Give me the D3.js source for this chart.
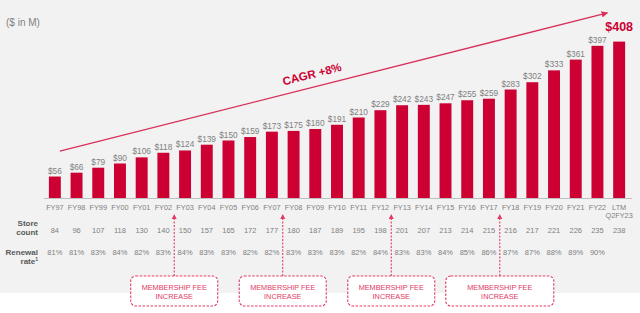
<!DOCTYPE html>
<html>
<head>
<meta charset="utf-8">
<script src="https://cdn.jsdelivr.net/npm/d3@7"></script>
<style>
  html, body { margin: 0; padding: 0; background: #fff; }
  svg { display: block; font-family: "Liberation Sans", Arial, sans-serif; }
</style>
</head>
<body>
<div id="chart"></div>
<script>
// data
let categories = ["FY97","FY98","FY99","FY00","FY01","FY02","FY03","FY04","FY05","FY06","FY07","FY08","FY09",
  "FY10","FY11","FY12","FY13","FY14","FY15","FY16","FY17","FY18","FY19","FY20","FY21","FY22","LTM Q2FY23"];
let feeRevenue = [56,66,79,90,106,118,124,139,150,159,173,175,180,191,210,229,242,243,247,255,259,283,302,333,361,397,408];
let storeCount = [84,96,107,118,130,140,150,157,165,172,177,180,187,189,195,198,201,207,213,214,215,216,217,221,226,235,238];
let renewalRate = [81,81,83,84,82,83,84,83,83,82,82,83,83,83,82,84,83,83,84,85,86,87,87,88,89,90,null];
// fee increases happened after these years
let feeIncreaseAfter = ["FY02","FY07","FY12","FY17"];
let feeBoxWidths = [87, 87, 87, 108];

let width = 640, height = 313;
let red = "#cc0033", gray = "#7f7f7f", pink = "#e23a64";

let svg = d3.select("#chart").append("svg")
  .attr("width", width)
  .attr("height", height);

// gray panel
svg.append("rect").attr("x", 0).attr("y", 0).attr("width", width).attr("height", 293).attr("fill", "#f2f2f2");

// scales
let x = d3.scaleBand().domain(categories).range([44, 630]).paddingInner(0.45).paddingOuter(0.225);
let y = d3.scaleLinear().domain([0, 408]).range([198, 41.6]);
let cx = d => x(d) + x.bandwidth() / 2;

svg.append("text")
  .attr("x", 6).attr("y", 25.5)
  .attr("fill", gray).attr("font-size", 10)
  .text("($ in M)");

// baseline
svg.append("line")
  .attr("x1", 44).attr("x2", 632)
  .attr("y1", 198.5).attr("y2", 198.5)
  .attr("stroke", "#c0c0c0").attr("stroke-width", 1);

// bars
svg.selectAll("rect.bar")
  .data(feeRevenue)
  .join("rect")
  .attr("class", "bar")
  .attr("x", (d, i) => x(categories[i]))
  .attr("y", d => y(d))
  .attr("width", x.bandwidth())
  .attr("height", d => y(0) - y(d))
  .attr("fill", red);

// value labels
let last = feeRevenue.length - 1;
svg.selectAll("text.val")
  .data(feeRevenue)
  .join("text")
  .attr("class", "val")
  .attr("x", (d, i) => cx(categories[i]))
  .attr("y", (d, i) => i === last ? y(d) - 10.5 : y(d) - 3)
  .attr("text-anchor", "middle")
  .attr("fill", (d, i) => i === last ? red : gray)
  .attr("font-size", (d, i) => i === last ? 12.5 : 8.3)
  .attr("font-weight", (d, i) => i === last ? "bold" : "normal")
  .text(d => "$" + d);

// category labels (LTM on two lines)
let catText = svg.selectAll("text.cat")
  .data(categories)
  .join("text")
  .attr("class", "cat")
  .attr("x", d => cx(d))
  .attr("y", 210.3)
  .attr("text-anchor", "middle")
  .attr("fill", gray)
  .attr("font-size", 7.3);
catText.each(function(d) {
  let parts = d.split(" ");
  d3.select(this).selectAll("tspan")
    .data(parts)
    .join("tspan")
    .attr("x", cx(d))
    .attr("dy", (p, j) => j === 0 ? 0 : 8)
    .text(p => p);
});

// store count row
svg.selectAll("text.store")
  .data(storeCount)
  .join("text")
  .attr("class", "store")
  .attr("x", (d, i) => cx(categories[i]))
  .attr("y", 233)
  .attr("text-anchor", "middle")
  .attr("fill", gray)
  .attr("font-size", 7.5)
  .text(d => d);

// renewal rate row
svg.selectAll("text.renew")
  .data(renewalRate.filter(d => d != null))
  .join("text")
  .attr("class", "renew")
  .attr("x", (d, i) => cx(categories[i]))
  .attr("y", 255)
  .attr("text-anchor", "middle")
  .attr("fill", gray)
  .attr("font-size", 7.5)
  .text(d => d + "%");

// row labels
let rowLab = svg.append("g")
  .attr("fill", "#595959")
  .attr("font-size", 8)
  .attr("font-weight", "bold")
  .attr("text-anchor", "end");
rowLab.append("text").attr("x", 38).attr("y", 225.8).text("Store");
rowLab.append("text").attr("x", 38).attr("y", 235).text("count");
rowLab.append("text").attr("x", 38).attr("y", 255).text("Renewal");
let rate = rowLab.append("text").attr("x", 38).attr("y", 264.4);
rate.append("tspan").text("rate");
rate.append("tspan").attr("font-size", 5).attr("dy", -3).text("1");

// CAGR arrow
let defs = svg.append("defs");
defs.append("marker")
  .attr("id", "arrow")
  .attr("viewBox", "0 0 10 10")
  .attr("refX", 9).attr("refY", 5)
  .attr("markerWidth", 5).attr("markerHeight", 5)
  .attr("orient", "auto")
  .append("path").attr("d", "M0,0 L10,5 L0,10 z").attr("fill", "#d9305a");

let cagrX0 = cx("FY97") + 5, cagrX1 = cx("FY22") + 10;
let cagrY0 = y(122), cagrY1 = y(483);
svg.append("line")
  .attr("x1", cagrX0).attr("y1", cagrY0)
  .attr("x2", cagrX1).attr("y2", cagrY1)
  .attr("stroke", "#d9305a").attr("stroke-width", 1.3)
  .attr("marker-end", "url(#arrow)");

let ang = Math.atan2(cagrY1 - cagrY0, cagrX1 - cagrX0) * 180 / Math.PI;
svg.append("text")
  .attr("transform", "translate(313,78) rotate(" + ang + ")")
  .attr("text-anchor", "middle")
  .attr("fill", red)
  .attr("font-size", 11.5)
  .attr("font-weight", "bold")
  .text("CAGR +8%");

// membership fee increase markers
defs.append("marker")
  .attr("id", "tip")
  .attr("viewBox", "0 0 10 10")
  .attr("refX", 5).attr("refY", 1)
  .attr("markerWidth", 4).attr("markerHeight", 4)
  .attr("orient", "auto-start-reverse")
  .append("path").attr("d", "M0,10 L5,0 L10,10 z").attr("fill", pink);

feeIncreaseAfter.forEach((c, k) => {
  let i = categories.indexOf(c);
  let mx = (cx(categories[i]) + cx(categories[i + 1])) / 2;
  let bw = feeBoxWidths[k];
  let g = svg.append("g");
  g.append("line")
    .attr("x1", mx).attr("x2", mx)
    .attr("y1", 276).attr("y2", 216)
    .attr("stroke", pink).attr("stroke-width", 1.1)
    .attr("stroke-dasharray", "2,1.5");
  g.append("path")
    .attr("d", "M" + (mx - 2.5) + ",219 L" + mx + ",214 L" + (mx + 2.5) + ",219 z")
    .attr("fill", pink);
  g.append("rect")
    .attr("x", mx - bw / 2).attr("y", 276)
    .attr("width", bw).attr("height", 30)
    .attr("rx", 5)
    .attr("fill", "#fff")
    .attr("stroke", pink).attr("stroke-width", 1.1)
    .attr("stroke-dasharray", "2.5,1.5");
  g.append("text")
    .attr("x", mx).attr("y", 290)
    .attr("text-anchor", "middle").attr("fill", pink).attr("font-size", 7.3)
    .text("MEMBERSHIP FEE");
  g.append("text")
    .attr("x", mx).attr("y", 299)
    .attr("text-anchor", "middle").attr("fill", pink).attr("font-size", 7.3)
    .text("INCREASE");
});
</script>
</body>
</html>
